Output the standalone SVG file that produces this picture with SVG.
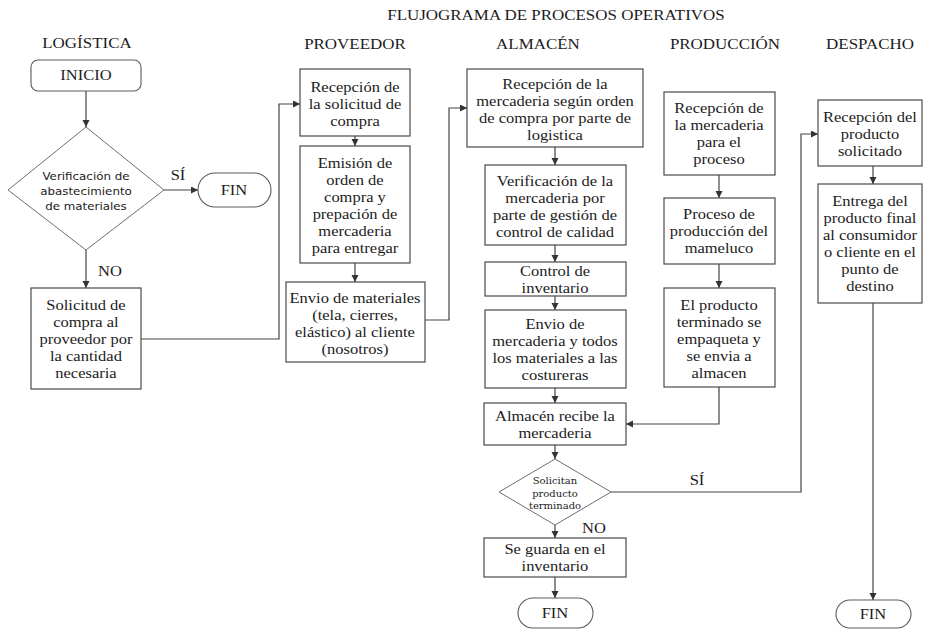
<svg xmlns="http://www.w3.org/2000/svg" width="925" height="629" viewBox="0 0 925 629">
  <style>
    .box { fill: #ffffff; stroke: #4a4a4a; stroke-width: 1.2; }
    .dia { fill: #ffffff; stroke: #6e6e6e; stroke-width: 1; }
    .term { fill: #ffffff; stroke: #5a5a5a; stroke-width: 1.1; }
    .edge { fill: none; stroke: #444444; stroke-width: 1.2; }
    text { fill: #1c1c1c; text-anchor: middle; }
    .s { font-family: "Liberation Serif", "Times New Roman", serif; font-size: 15px;
         transform-box: fill-box; transform-origin: center; transform: scaleX(1.1); }
    .h { font-family: "Liberation Serif", "Times New Roman", serif; font-size: 15px;
         transform-box: fill-box; transform-origin: center; transform: scaleX(1.13); }
    .sans { font-family: "DejaVu Sans", sans-serif; font-size: 11px;
            transform-box: fill-box; transform-origin: center; transform: scaleX(1.08); }
    .small { font-family: "DejaVu Serif", serif; font-size: 10px; }
  </style>
  <defs>
    <marker id="arrow" markerUnits="userSpaceOnUse" markerWidth="8" markerHeight="8" refX="7" refY="3.5" orient="auto">
      <path d="M0,0 L7,3.5 L0,7 z" fill="#333333"/>
    </marker>
  </defs>

  <!-- headings -->
  <g id="headings">
    <text class="h" x="556" y="20">FLUJOGRAMA DE PROCESOS OPERATIVOS</text>
    <text class="h" x="87" y="48">LOGÍSTICA</text>
    <text class="h" x="355" y="49">PROVEEDOR</text>
    <text class="h" x="538" y="49">ALMACÉN</text>
    <text class="h" x="725" y="49">PRODUCCIÓN</text>
    <text class="h" x="870" y="49">DESPACHO</text>
  </g>

  <!-- connectors -->
  <g id="connectors" class="edge" marker-end="url(#arrow)">
    <path d="M86,91 V127"/>
    <path d="M164,190 H198"/>
    <path d="M86,250 V288"/>
    <path d="M141,339 H279 V104 H300"/>
    <path d="M355,136 V146"/>
    <path d="M355,263 V282"/>
    <path d="M425,320 H449 V108 H467"/>
    <path d="M555,147 V165"/>
    <path d="M555,245 V262"/>
    <path d="M555,296 V310"/>
    <path d="M555,388 V403"/>
    <path d="M719,387 V424 H626"/>
    <path d="M555,445 V459"/>
    <path d="M555,525 V538"/>
    <path d="M555,577 V598"/>
    <path d="M611,492 H801 V134 H818"/>
    <path d="M719,175 V198"/>
    <path d="M719,264 V288"/>
    <path d="M873,166 V184"/>
    <path d="M873,303 V600"/>
  </g>

  <!-- connector labels -->
  <g id="labels">
    <text class="s" x="178" y="180">SÍ</text>
    <text class="s" x="110" y="276">NO</text>
    <text class="s" x="594" y="533">NO</text>
    <text class="s" x="697" y="485">SÍ</text>
  </g>

  <!-- LOGÍSTICA -->
  <g id="inicio">
    <rect class="term" x="31" y="60" width="110" height="31" rx="7"/>
    <text class="s" x="86" y="80">INICIO</text>
  </g>
  <g id="verificacion-abastecimiento">
    <polygon class="dia" points="86,127 164,190 86,250 8,190"/>
    <text class="sans"><tspan x="86" y="180">Verificación de</tspan><tspan x="86" y="195">abastecimiento</tspan><tspan x="86" y="210">de materiales</tspan></text>
  </g>
  <g id="fin-logistica">
    <rect class="term" x="198" y="173" width="73" height="34" rx="17"/>
    <text class="s" x="234" y="195">FIN</text>
  </g>
  <g id="solicitud-compra">
    <rect class="box" x="31" y="288" width="110" height="101"/>
    <text class="s"><tspan x="86" y="310">Solicitud de</tspan><tspan x="86" y="327">compra al</tspan><tspan x="86" y="344">proveedor por</tspan><tspan x="86" y="361">la cantidad</tspan><tspan x="86" y="378">necesaria</tspan></text>
  </g>

  <!-- PROVEEDOR -->
  <g id="recepcion-solicitud">
    <rect class="box" x="300" y="69" width="110" height="67"/>
    <text class="s"><tspan x="355" y="92">Recepción de</tspan><tspan x="355" y="109">la solicitud de</tspan><tspan x="355" y="126">compra</tspan></text>
  </g>
  <g id="emision-orden">
    <rect class="box" x="300" y="146" width="110" height="117"/>
    <text class="s"><tspan x="355" y="168">Emisión de</tspan><tspan x="355" y="185">orden de</tspan><tspan x="355" y="202">compra y</tspan><tspan x="355" y="219">prepación de</tspan><tspan x="355" y="236">mercaderia</tspan><tspan x="355" y="253">para entregar</tspan></text>
  </g>
  <g id="envio-materiales">
    <rect class="box" x="286" y="282" width="139" height="80"/>
    <text class="s"><tspan x="355" y="303">Envio de materiales</tspan><tspan x="355" y="320">(tela, cierres,</tspan><tspan x="355" y="337">elástico) al cliente</tspan><tspan x="355" y="354">(nosotros)</tspan></text>
  </g>

  <!-- ALMACÉN -->
  <g id="recepcion-mercaderia">
    <rect class="box" x="467" y="69" width="176" height="78"/>
    <text class="s"><tspan x="555" y="89">Recepción de la</tspan><tspan x="555" y="106">mercaderia según orden</tspan><tspan x="555" y="123">de compra por parte de</tspan><tspan x="555" y="140">logistica</tspan></text>
  </g>
  <g id="verificacion-calidad">
    <rect class="box" x="485" y="165" width="141" height="80"/>
    <text class="s"><tspan x="555" y="186">Verificación de la</tspan><tspan x="555" y="203">mercaderia por</tspan><tspan x="555" y="220">parte de gestión de</tspan><tspan x="555" y="237">control de calidad</tspan></text>
  </g>
  <g id="control-inventario">
    <rect class="box" x="485" y="262" width="141" height="34"/>
    <text class="s"><tspan x="555" y="276">Control de</tspan><tspan x="555" y="293">inventario</tspan></text>
  </g>
  <g id="envio-costureras">
    <rect class="box" x="485" y="310" width="141" height="78"/>
    <text class="s"><tspan x="555" y="329">Envio de</tspan><tspan x="555" y="346">mercaderia y todos</tspan><tspan x="555" y="363">los materiales a las</tspan><tspan x="555" y="380">costureras</tspan></text>
  </g>
  <g id="almacen-recibe">
    <rect class="box" x="484" y="403" width="142" height="42"/>
    <text class="s"><tspan x="555" y="421">Almacén recibe la</tspan><tspan x="555" y="438">mercaderia</tspan></text>
  </g>
  <g id="solicitan-producto">
    <polygon class="dia" points="555,459 611,492 555,525 499,492"/>
    <text class="small"><tspan x="555" y="484">Solicitan</tspan><tspan x="555" y="497">producto</tspan><tspan x="555" y="509">terminado</tspan></text>
  </g>
  <g id="guarda-inventario">
    <rect class="box" x="484" y="538" width="142" height="39"/>
    <text class="s"><tspan x="555" y="554">Se guarda en el</tspan><tspan x="555" y="571">inventario</tspan></text>
  </g>
  <g id="fin-almacen">
    <rect class="term" x="518" y="598" width="75" height="30" rx="15"/>
    <text class="s" x="555" y="618">FIN</text>
  </g>

  <!-- PRODUCCIÓN -->
  <g id="recepcion-proceso">
    <rect class="box" x="664" y="92" width="111" height="83"/>
    <text class="s"><tspan x="719" y="113">Recepción de</tspan><tspan x="719" y="130">la mercaderia</tspan><tspan x="719" y="147">para el</tspan><tspan x="719" y="164">proceso</tspan></text>
  </g>
  <g id="proceso-produccion">
    <rect class="box" x="664" y="198" width="111" height="66"/>
    <text class="s"><tspan x="719" y="219">Proceso de</tspan><tspan x="719" y="236">producción del</tspan><tspan x="719" y="253">mameluco</tspan></text>
  </g>
  <g id="producto-terminado">
    <rect class="box" x="664" y="288" width="111" height="99"/>
    <text class="s"><tspan x="719" y="310">El producto</tspan><tspan x="719" y="327">terminado se</tspan><tspan x="719" y="344">empaqueta y</tspan><tspan x="719" y="361">se envia a</tspan><tspan x="719" y="378">almacen</tspan></text>
  </g>

  <!-- DESPACHO -->
  <g id="recepcion-producto">
    <rect class="box" x="818" y="100" width="104" height="66"/>
    <text class="s"><tspan x="870" y="122">Recepción del</tspan><tspan x="870" y="139">producto</tspan><tspan x="870" y="156">solicitado</tspan></text>
  </g>
  <g id="entrega-producto">
    <rect class="box" x="818" y="184" width="104" height="119"/>
    <text class="s"><tspan x="870" y="206">Entrega del</tspan><tspan x="870" y="223">producto final</tspan><tspan x="870" y="240">al consumidor</tspan><tspan x="870" y="257">o cliente en el</tspan><tspan x="870" y="274">punto de</tspan><tspan x="870" y="291">destino</tspan></text>
  </g>
  <g id="fin-despacho">
    <rect class="term" x="836" y="600" width="75" height="28" rx="14"/>
    <text class="s" x="873" y="619">FIN</text>
  </g>
</svg>
